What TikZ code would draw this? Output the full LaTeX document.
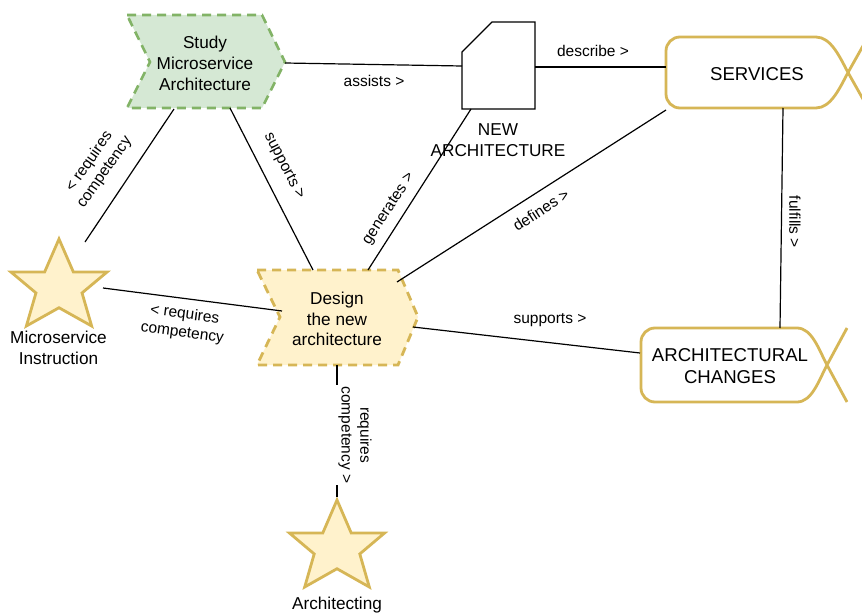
\documentclass[tikz,border=0pt]{standalone}
\usepackage{fontspec}
\setmainfont{Liberation Sans}
\definecolor{studyfill}{HTML}{D5E8D4}
\definecolor{studyline}{HTML}{82B366}
\definecolor{goldfill}{HTML}{FFF2CC}
\definecolor{goldline}{HTML}{D6B656}

% rounded card whose right side ends in a crossed tail
% #1 left, #2 top, #3 bottom, #4 start of the curve, #5 crossing x, #6 tail end x
\newcommand\tailcard[6]{%
  \path[goldbox] (#6,#3) -- (#5,{(#2+#3)/2})
    .. controls (#5-8,{(#2+#3)/2-15}) and (#4+15,#2) .. (#4,#2)
    -- (#1+14,#2) arc[start angle=90,end angle=180,radius=14pt]
    -- (#1,#3-14) arc[start angle=180,end angle=270,radius=14pt]
    -- (#4,#3) .. controls (#4+15,#3) and (#5-8,{(#2+#3)/2+15}) .. (#5,{(#2+#3)/2})
    -- (#6,#2);%
}
% five-pointed star inside the box with top-left corner (#1,#2), width #3, height #4
\newcommand\goldstar[4]{%
  \begin{scope}[shift={(#1,#2)}, x=#3pt, y=-#4pt]
    \path[starshape] (0,0.38) -- (0.35,0.38) -- (0.5,0) -- (0.65,0.38) -- (1,0.38)
      -- (0.74,0.62) -- (0.84,1) -- (0.5,0.79) -- (0.16,1) -- (0.26,0.62) -- cycle;
  \end{scope}%
}

\begin{document}
\begin{tikzpicture}[x=1pt,y=-1pt,
  conn/.style={line width=1.2pt, black},
  nodetext/.style={font=\fontsize{17.2}{20.8}\selectfont, align=center, inner sep=0pt},
  captext/.style={font=\fontsize{18.6}{21.6}\selectfont, align=center, inner sep=0pt},
  lbl/.style={font=\fontsize{15.5}{18.6}\selectfont, align=center, inner sep=1pt},
  studyshape/.style={draw=studyline, fill=studyfill, line width=2.6pt, dash pattern=on 9pt off 6pt},
  designshape/.style={draw=goldline, fill=goldfill, line width=2.8pt, dash pattern=on 9pt off 6pt},
  goldbox/.style={draw=goldline, fill=white, line width=2.8pt},
  starshape/.style={draw=goldline, fill=goldfill, line width=2.8pt},
  docshape/.style={draw=black, fill=white, line width=1.2pt},
]
\useasboundingbox (0,0) rectangle (862,615);
\fill[white] (0,0) rectangle (862,615);

% ---- shapes ----
\path[studyshape] (127,15) -- (262,15) -- (285,62) -- (262,108) -- (127,108) -- (150,62) -- cycle;
\node[nodetext] (study) at (205,63.4) {Study\\Microservice\\Architecture};

\path[designshape] (257,270) -- (398,270) -- (418,317) -- (398,365) -- (257,365) -- (280,317) -- cycle;
\node[nodetext] (design) at (337,319) {Design\\the new\\architecture};

\path[docshape] (462,52) -- (492,22) -- (535,22) -- (535,109) -- (462,109) -- cycle;
\node[nodetext] (newarch) at (498,140) {NEW\\ARCHITECTURE};

\tailcard{666}{37}{108}{816}{848}{868}
\node[captext] (services) at (757,74) {SERVICES};

\tailcard{641}{328}{402}{797}{827}{847}
\node[captext] (archchanges) at (730,366) {ARCHITECTURAL\\CHANGES};

\goldstar{11}{239}{96}{87}
\node[nodetext] (msi) at (58.5,347.7) {Microservice\\Instruction};

\goldstar{289.5}{500}{95}{87}
\node[nodetext, anchor=base] (architecting) at (337,609.6) {Architecting};

% ---- connector end points ----
\coordinate (study-e) at (285,63);
\coordinate (study-s1) at (174,109);
\coordinate (study-s2) at (230,108);
\coordinate (newarch-w) at (462,66);
\coordinate (newarch-e) at (535,67);
\coordinate (newarch-s) at (471,109);
\coordinate (services-w) at (666,67);
\coordinate (services-sw) at (666,110);
\coordinate (services-s) at (783,108);
\coordinate (archchanges-n) at (780,328);
\coordinate (archchanges-w) at (640,353);
\coordinate (design-n1) at (313,270);
\coordinate (design-n2) at (368,270);
\coordinate (design-ne) at (397,282);
\coordinate (design-e) at (413,327);
\coordinate (design-w) at (282,311);
\coordinate (design-s) at (337,365);
\coordinate (msi-ne) at (85,242);
\coordinate (msi-e) at (103,288);
\coordinate (architecting-n) at (337,497);

% ---- connectors ----
\draw[conn] (study-e) -- (newarch-w);
\draw[conn] (newarch-e) -- (services-w);
\draw[conn] (study-s2) -- (design-n1);
\draw[conn] (study-s1) -- (msi-ne);
\draw[conn] (msi-e) -- (design-w);
\draw[conn] (design-n2) -- (newarch-s);
\draw[conn] (design-ne) -- (services-sw);
\draw[conn] (design-e) -- (archchanges-w);
\draw[conn] (services-s) -- (archchanges-n);
\draw[conn] (design-s) -- (architecting-n);

% ---- connector labels ----
\node[lbl] (l-assists) at (374,81) {assists >};
\node[lbl] (l-describe) at (593,51) {describe >};
\node[lbl, rotate=-62.7] (l-supports1) at (284,166) {supports >};
\node[lbl, rotate=55] (l-reqcomp1) at (97,167) {< requires\\competency};
\node[lbl, rotate=-7.5] (l-reqcomp2) at (183.5,324) {< requires\\competency};
\node[lbl, rotate=-90, fill=white, inner xsep=2pt, inner ysep=3.5pt] (l-reqcomp3) at (355,435) {requires\\competency >};
\node[lbl, rotate=57] (l-generates) at (389,209) {generates >};
\node[lbl, rotate=33] (l-defines) at (541,210) {defines >};
\node[lbl] (l-supports2) at (550,320) {supports >};
\node[lbl, rotate=-90] (l-fulfills) at (795,222) {fulfills >};
\end{tikzpicture}
\end{document}
